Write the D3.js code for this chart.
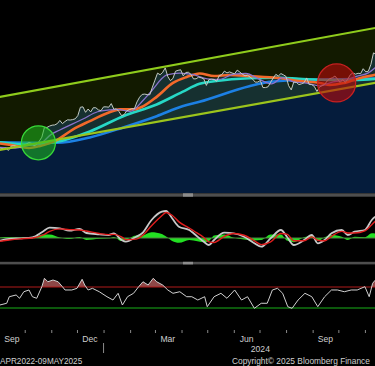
<!DOCTYPE html>
<html><head><meta charset="utf-8">
<script src="https://cdn.jsdelivr.net/npm/d3@7"></script>
<style>html,body{margin:0;background:#000;overflow:hidden}</style>
</head><body>
<svg id="c" width="375" height="366"></svg>
<script>
// ---------------- DATA ----------------
const priceStart = "2023-08-28";
const priceStepDays = 3;
const priceK = [
  26.1, 26.0,
  25.9, 25.8, 25.9, 25.2, 26.6, 26.8, 26.6, 26.3, 26.4, 27.0,
  27.4, 27.9, 27.6, 26.8, 27.2, 28.4, 29.9, 33.9, 33.9, 34.5,
  34.9, 35.0, 35.6, 37.1, 35.6, 36.6, 37.4, 37.3, 37.5, 37.9,
  39.5, 44.0, 44.2, 41.2, 43.0, 41.4, 43.7, 43.7, 42.5, 42.1,
  44.2, 44.2, 44.0, 46.1, 42.9, 43.1, 41.6, 39.5, 40.0, 42.0, 42.6,
  43.2, 43.1, 47.1, 50.0, 51.9, 52.1, 51.8, 51.7, 57.0,
  62.4, 68.3, 66.9, 69.0, 73.1, 65.3, 62.0, 63.8, 70.0, 70.8, 71.3,
  66.0, 68.9, 69.1, 67.2, 63.4, 63.5, 64.9, 64.3, 63.4, 58.3,
  62.9, 63.2, 63.0, 61.5, 66.2, 67.0, 70.1, 68.5, 69.4, 68.4,
  67.8, 71.0, 69.3, 67.3, 66.0, 66.5, 64.9, 63.2, 60.8, 60.9,
  62.1, 56.7, 56.7, 57.3, 60.8, 64.1, 67.2, 65.9, 67.9, 66.8,
  65.4, 58.1, 55.0, 60.9, 60.6, 58.9, 59.5, 60.4, 64.2, 59.0, 58.9,
  57.5, 53.9, 57.1, 58.1, 59.1, 61.8, 63.6, 64.3, 65.8, 63.3,
  60.6, 62.8, 60.6, 63.2, 67.0, 68.4, 67.4, 68.2, 67.9, 72.3,
  69.5, 70.0, 76.5, 88.7, 87.2
];

const maPurpleDates = ["2023-08-28","2023-09-20","2023-10-05","2023-10-19","2023-11-01","2023-11-11","2023-11-26","2023-12-08","2023-12-25","2024-01-08","2024-01-17","2024-02-01","2024-02-16","2024-02-24","2024-03-15","2024-03-30","2024-04-15","2024-05-01","2024-05-15","2024-06-01","2024-06-15","2024-07-01","2024-07-15","2024-07-28","2024-08-10","2024-08-25","2024-09-09","2024-09-25","2024-10-08","2024-10-22","2024-11-05","2024-11-14"];
const maPurpleK = [26.3,26.0,26.8,27.5,31.0,32.8,35.5,37.8,41.5,42.5,42.8,41.7,48.0,52.9,66.7,68.4,67.0,63.5,63.0,67.5,68.0,63.0,59.5,64.5,61.0,60.0,58.0,61.0,62.5,65.5,68.5,74.0];

const maOrangeDates = ["2023-08-28","2023-09-15","2023-10-06","2023-10-19","2023-11-08","2023-11-26","2023-12-16","2024-01-05","2024-01-20","2024-02-05","2024-02-16","2024-03-03","2024-03-22","2024-04-07","2024-04-22","2024-05-09","2024-05-27","2024-06-19","2024-07-24","2024-08-16","2024-09-09","2024-09-21","2024-10-08","2024-10-31","2024-11-14"];
const maOrangeK = [27.8,27.0,26.0,26.7,28.9,33.0,36.8,40.7,42.8,42.8,44.5,50.3,60.2,65.0,68.0,65.8,66.7,65.8,64.1,61.7,60.2,58.6,60.2,65.0,67.0];

const maCyanDates = ["2023-08-28","2023-10-06","2023-10-19","2023-11-08","2023-12-16","2024-01-24","2024-03-03","2024-04-02","2024-04-22","2024-05-09","2024-06-19","2024-07-24","2024-08-16","2024-09-21","2024-10-20","2024-11-14"];
const maCyanK = [28.2,27.2,27.4,28.2,32.2,39.2,45.6,53.6,59.5,61.5,64.0,64.3,63.5,62.5,62.5,63.5];

const maBlueDates = ["2023-08-28","2023-10-19","2023-11-08","2023-12-16","2024-01-24","2024-03-03","2024-04-02","2024-04-22","2024-06-19","2024-07-12","2024-08-16","2024-09-21","2024-10-20","2024-11-14"];
const maBlueK = [28.0,27.8,27.8,29.8,33.9,39.2,44.5,47.2,57.7,61.0,62.5,63.0,63.3,63.8];

const channelDates = ["2023-08-28","2024-11-14"];
const channelUpperK = [49.7, 122.6];
const channelLowerK = [25.1, 60.4];

const crossDates = ["2023-10-17","2024-09-29"];
const crossK = [27.8, 60.2];
const crossKind = ["golden","death"];

const macdDates = ["2023-09-02","2023-09-13","2023-09-25","2023-10-10","2023-10-22","2023-10-30","2023-11-11","2023-11-22","2023-12-04","2023-12-12","2023-12-27","2024-01-07","2024-01-13","2024-01-22","2024-01-27","2024-02-08","2024-02-15","2024-02-26","2024-03-09","2024-03-14","2024-03-21","2024-03-29","2024-04-10","2024-04-15","2024-04-27","2024-05-03","2024-05-09","2024-05-21","2024-06-01","2024-06-13","2024-06-25","2024-07-03","2024-07-14","2024-07-26","2024-08-02","2024-08-10","2024-08-22","2024-08-31","2024-09-07","2024-09-15","2024-09-23","2024-10-05","2024-10-12","2024-10-20","2024-11-01","2024-11-09","2024-11-13"];
const macdLine = [-490,-180,-50,130,1130,1850,1750,1310,1620,900,670,540,850,-360,-670,230,850,3240,4730,4860,3550,2030,1440,850,-670,-1260,-360,950,850,230,-950,-1570,-50,1440,230,-1260,-360,540,-950,-360,850,1440,540,1130,1440,3240,3830];
const macdSignal = [-600,-350,-150,0,500,1200,1650,1500,1450,1250,800,600,650,200,-300,-200,400,2200,4000,4600,4100,2900,1800,1300,100,-700,-800,300,800,500,-500,-1200,-700,800,700,-500,-500,200,-400,-500,300,1200,900,900,1300,2400,3000];
const macdHist = [110,170,100,130,630,650,100,-190,170,-350,-130,-60,200,-560,-370,430,450,1040,730,260,-550,-870,-360,-450,-770,-560,440,650,50,-270,-450,-370,650,640,-470,-760,140,340,-550,140,550,240,-360,230,140,840,830];

const rsiDates = ["2023-09-02","2023-09-10","2023-09-13","2023-09-21","2023-09-25","2023-09-30","2023-10-06","2023-10-10","2023-10-15","2023-10-21","2023-10-24","2023-10-28","2023-11-03","2023-11-09","2023-11-14","2023-11-17","2023-11-25","2023-12-01","2023-12-07","2023-12-10","2023-12-14","2023-12-19","2023-12-27","2024-01-05","2024-01-12","2024-01-18","2024-01-23","2024-01-29","2024-02-05","2024-02-11","2024-02-16","2024-02-22","2024-02-28","2024-03-03","2024-03-10","2024-03-16","2024-03-22","2024-03-30","2024-04-07","2024-04-13","2024-04-20","2024-04-28","2024-05-01","2024-05-09","2024-05-17","2024-05-24","2024-06-02","2024-06-10","2024-06-17","2024-06-25","2024-07-03","2024-07-10","2024-07-16","2024-07-22","2024-07-28","2024-08-03","2024-08-08","2024-08-15","2024-08-23","2024-08-31","2024-09-07","2024-09-15","2024-09-23","2024-09-30","2024-10-08","2024-10-16","2024-10-23","2024-11-01","2024-11-06","2024-11-10","2024-11-13"];
const rsiValues = [35.7,39,51.5,54.8,48.5,61,64.3,51.5,48.5,70.6,86.6,80,83.3,80,70.6,64.3,64.3,67.5,84.7,73.8,64.3,67.5,61,51.5,45.2,58,35.7,51.5,58,70.6,80,73.8,86.6,80,73.8,64.3,58,61,51.5,51.5,45.2,51.5,32.5,51.5,58,48.5,64.3,45.2,51.5,29.4,39,39,64.3,67.5,58,32.5,29.4,45.2,58,51.5,32.5,51.5,64.3,64.3,61,64.3,64.3,70.6,51.5,77,83];
const rsiUpper = 70, rsiLower = 30;

const monthLabels = [["2023-09-16","Sep"],["2023-12-16","Dec"],["2024-03-16","Mar"],["2024-06-16","Jun"],["2024-09-16","Sep"]];
const yearBreaks = ["2024-01-01"];
const yearLabels = [["2024-07-02","2024"]];
const rangeText = "APR2022-09MAY2025";
const copyrightText = "Copyright\u00A9 2025 Bloomberg Finance";

// ---------------- CHART ----------------
const parse = d3.timeParse("%Y-%m-%d");
const svg = d3.select("#c");
svg.append("rect").attr("width",375).attr("height",366).attr("fill","#000");

const x = d3.scaleTime().domain([parse("2023-09-01"), parse("2024-11-13")]).range([-1, 375.2]);
const yP = d3.scaleLog().domain([14.36, 175.5]).range([194, 0]);
const yM = d3.scaleLinear().domain([-4320, 7380]).range([262, 197]);
const yR = d3.scaleLinear().domain([rsiLower, rsiUpper]).range([308, 287]);

const start = parse(priceStart);
const price = priceK.map((v,i)=>({d:d3.timeDay.offset(start, i*priceStepDays), v}));
const series = (ds, vs) => ds.map((d,i)=>({d:parse(d), v:vs[i]}));

const defs = svg.append("defs");
defs.append("clipPath").attr("id","cMain").append("rect").attr("x",0).attr("y",0).attr("width",375).attr("height",193.3);
defs.append("clipPath").attr("id","cMacd").append("rect").attr("x",0).attr("y",196.7).attr("width",375).attr("height",65);
defs.append("clipPath").attr("id","cRsi").append("rect").attr("x",0).attr("y",264).attr("width",375).attr("height",64);
defs.append("clipPath").attr("id","cRsiHi").append("rect").attr("x",0).attr("y",264).attr("width",375).attr("height",yR(rsiUpper)-264);

// main panel
const gMain = svg.append("g").attr("clip-path","url(#cMain)");
gMain.append("path").datum(price)
  .attr("d", d3.area().x(d=>x(d.d)).y0(193.3).y1(d=>yP(d.v)))
  .attr("fill","#051c3c");

const chan = channelDates.map((d,i)=>({d:parse(d), u:channelUpperK[i], l:channelLowerK[i]}));
gMain.append("path").datum(chan)
  .attr("d", d3.area().x(d=>x(d.d)).y0(d=>yP(d.l)).y1(d=>yP(d.u)))
  .attr("fill","rgba(92,128,0,0.2)");

const lineP = d3.line().x(d=>x(d.d)).y(d=>yP(d.v)).curve(d3.curveMonotoneX);
const mas = [
  [maBlueDates, maBlueK, "#1c80e4", 2.6],
  [maCyanDates, maCyanK, "#27d8c6", 2.6],
  [maOrangeDates, maOrangeK, "#f2692a", 2.6],
];
mas.forEach(([ds,vs,c,w])=>{
  gMain.append("path").datum(series(ds,vs)).attr("d",lineP)
    .attr("fill","none").attr("stroke",c).attr("stroke-width",w);
});
gMain.append("path").datum(series(maPurpleDates, maPurpleK)).attr("d",lineP)
  .attr("fill","none").attr("stroke","#8a72cc").attr("stroke-width",1.3);
gMain.append("path").datum(price)
  .attr("d", d3.line().x(d=>x(d.d)).y(d=>yP(d.v)))
  .attr("fill","none").attr("stroke","#c4cbc4").attr("stroke-width",1);

const lineC = d3.line().x(d=>x(d.d)).y(d=>yP(d.v));
gMain.append("path").datum(chan.map(c=>({d:c.d,v:c.u}))).attr("d",lineC)
  .attr("fill","none").attr("stroke","#8fcc1c").attr("stroke-width",2.2);
gMain.append("path").datum(chan.map(c=>({d:c.d,v:c.l}))).attr("d",lineC)
  .attr("fill","none").attr("stroke","#9cc41c").attr("stroke-width",2.2);

crossDates.forEach((d,i)=>{
  const g = crossKind[i]==="golden";
  gMain.append("circle").attr("cx",x(parse(d))).attr("cy",yP(crossK[i]))
    .attr("r", g?17:19)
    .attr("fill", g?"rgba(30,190,30,0.55)":"rgba(185,10,10,0.6)")
    .attr("stroke", g?"#38d838":"#c82020").attr("stroke-width",1.3);
});

// separators
[[193.3,3.4],[261.8,2.6]].forEach(([y,h])=>{
  svg.append("rect").attr("x",0).attr("y",y).attr("width",375).attr("height",h).attr("fill","#4e4e4e");
  svg.append("rect").attr("x",183).attr("y",y).attr("width",10).attr("height",h).attr("fill","#8c8c8c");
});

// MACD panel
const gM = svg.append("g").attr("clip-path","url(#cMacd)");
const macdH = series(macdDates, macdHist);
gM.append("path").datum(macdH)
  .attr("d", d3.area().x(d=>x(d.d)).y0(yM(0)).y1(d=>yM(d.v)).curve(d3.curveMonotoneX))
  .attr("fill","#22e022");
gM.append("line").attr("x1",0).attr("x2",375).attr("y1",yM(0)).attr("y2",yM(0))
  .attr("stroke","#4f8040").attr("stroke-width",1);
const lineM = d3.line().x(d=>x(d.d)).y(d=>yM(d.v)).curve(d3.curveMonotoneX);
gM.append("path").datum(series(macdDates, macdLine)).attr("d",lineM)
  .attr("fill","none").attr("stroke","#c8c8c8").attr("stroke-width",1.8);
gM.append("path").datum(series(macdDates, macdSignal)).attr("d",lineM)
  .attr("fill","none").attr("stroke","#e01e1e").attr("stroke-width",1.4);

// RSI panel
const gR = svg.append("g").attr("clip-path","url(#cRsi)");
const rsi = series(rsiDates, rsiValues);
gR.append("path").datum(rsi).attr("clip-path","url(#cRsiHi)")
  .attr("d", d3.area().x(d=>x(d.d)).y0(yR(rsiUpper)).y1(d=>yR(d.v)))
  .attr("fill","rgba(190,95,95,0.75)");
gR.append("line").attr("x1",0).attr("x2",375).attr("y1",yR(rsiUpper)).attr("y2",yR(rsiUpper))
  .attr("stroke","#b01a1a").attr("stroke-width",1.2);
gR.append("line").attr("x1",0).attr("x2",375).attr("y1",yR(rsiLower)).attr("y2",yR(rsiLower))
  .attr("stroke","#18b018").attr("stroke-width",1.2);
gR.append("path").datum(rsi).attr("d", d3.line().x(d=>x(d.d)).y(d=>yR(d.v)))
  .attr("fill","none").attr("stroke","#d0d0d0").attr("stroke-width",1);

// axis
const axisG = svg.append("g").attr("transform","translate(0,330)");
axisG.call(d3.axisBottom(x).ticks(d3.timeMonth.every(1)).tickSize(3).tickFormat(""));
axisG.select(".domain").remove();
axisG.selectAll(".tick line").attr("stroke","#8a8a8a");

const font = "'Liberation Sans', Arial, sans-serif";
monthLabels.forEach(([d,t])=>{
  svg.append("text").attr("x",x(parse(d))).attr("y",341.5).attr("text-anchor","middle")
    .attr("font-family",font).attr("font-size",8.6).attr("fill","#cfcfcf").text(t);
});
yearBreaks.forEach(d=>{
  svg.append("line").attr("x1",x(parse(d))).attr("x2",x(parse(d))).attr("y1",343).attr("y2",353)
    .attr("stroke","#8a8a8a").attr("stroke-width",1);
});
yearLabels.forEach(([d,t])=>{
  svg.append("text").attr("x",x(parse(d))).attr("y",352).attr("text-anchor","middle")
    .attr("font-family",font).attr("font-size",8.6).attr("fill","#cfcfcf").text(t);
});
svg.append("text").attr("x",0).attr("y",363.5).attr("font-family",font).attr("font-size",8.2)
  .attr("fill","#cfcfcf").text(rangeText);
svg.append("text").attr("x",232).attr("y",363.5).attr("font-family",font).attr("font-size",8.4)
  .attr("fill","#cfcfcf").text(copyrightText);
</script></body></html>
